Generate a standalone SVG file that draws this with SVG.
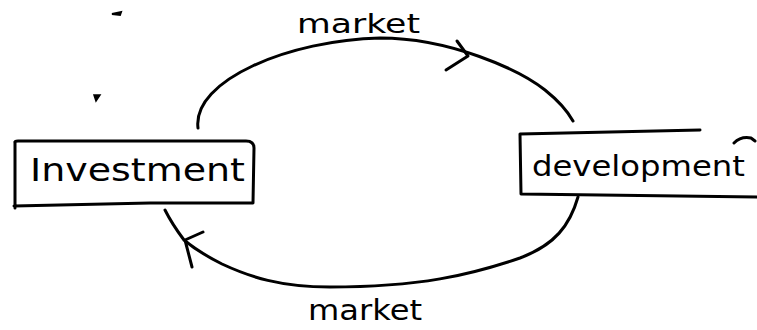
<svg xmlns="http://www.w3.org/2000/svg" width="757" height="330" viewBox="0 0 757 330">
  <style>
    .ink { fill: none; stroke: #000; stroke-width: 3; stroke-linecap: round; stroke-linejoin: round; }
    .box { fill: none; stroke: #000; stroke-width: 3; stroke-linecap: round; stroke-linejoin: round; }
    .hand { font-family: "DejaVu Sans", "Liberation Sans", sans-serif; fill: #000; }
  </style>
  <rect width="757" height="330" fill="#fff"/>

  <!-- stray pen marks -->
  <path d="M112 14 L121 12 L120 15 Z" fill="#000" stroke="#000" stroke-width="2"/>
  <path d="M94 95 L100 95 L96 101 Z" fill="#000" stroke="#000" stroke-width="1.5"/>

  <g id="investment">
    <path class="box" d="M15 143 Q14 141 18 141 L246 141 Q254 141 254 148 L253 203 L150 203 M15 143 L15 208 M150 203 L14 206"/>
    <text class="hand" x="30" y="181" font-size="32" textLength="215" lengthAdjust="spacingAndGlyphs">Investment</text>
  </g>

  <g id="development">
    <path class="box" d="M520 134 L700 130 M520 134 L521 194 L600 195 L757 197 M734 143 Q741 136 751 138 L755 141"/>
    <text class="hand" x="532" y="176" font-size="29" textLength="213" lengthAdjust="spacingAndGlyphs">development</text>
  </g>

  <g id="connectors">
    <!-- upper flow: Investment to development -->
    <path class="ink" d="M198 128 C192 80 290 40 380 38 C450 38 520 70 545 90 C560 102 568 112 573 121"/>
    <path class="ink" d="M457 41 L468 56 L446 70"/>
    <text class="hand" x="297" y="33" font-size="26" textLength="123" lengthAdjust="spacingAndGlyphs">market</text>

    <!-- lower flow: development back to Investment -->
    <path class="ink" d="M578 197 C570 225 555 245 520 258 C470 275 420 287 330 287 C280 287 250 277 222 264 C200 253 190 245 184 240 C175 228 170 220 165 210"/>
    <path class="ink" d="M203 232 L185 240 L192 267"/>
    <text class="hand" x="308" y="320" font-size="28" textLength="114" lengthAdjust="spacingAndGlyphs">market</text>
  </g>
</svg>
